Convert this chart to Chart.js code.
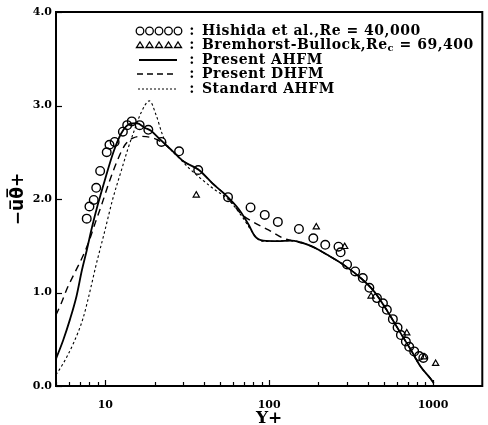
<!DOCTYPE html>
<html>
<head>
<meta charset="utf-8">
<script src="https://cdn.jsdelivr.net/npm/chart.js@4.4.0/dist/chart.umd.min.js"></script>
<style>
  body { margin: 0; background: #fff; }
  canvas { display: block; }
</style>
</head>
<body>
<canvas id="ctx" width="488" height="425"></canvas>
<script>
// Hishida et al., Re = 40,000 (circles)
const hishidaX = [7.7, 8.0, 8.5, 8.8, 9.3, 10.2, 10.6, 11.4, 12.8, 13.6, 14.5, 16.2, 18.3, 22.0, 28.2, 36.9, 56.1, 77, 94, 113, 152, 186, 220, 265, 273, 299, 335, 373, 409, 455, 495, 523, 569, 608, 637, 683, 716, 768, 823, 873];
const hishidaY = [1.79, 1.92, 1.99, 2.12, 2.30, 2.50, 2.58, 2.61, 2.72, 2.79, 2.83, 2.79, 2.74, 2.61, 2.51, 2.31, 2.02, 1.91, 1.83, 1.755, 1.68, 1.58, 1.51, 1.49, 1.43, 1.30, 1.225, 1.155, 1.05, 0.94, 0.885, 0.815, 0.715, 0.625, 0.545, 0.475, 0.42, 0.37, 0.32, 0.30];

// Bremhorst-Bullock, Re_c = 69,400 (triangles)
const bremX = [35.9, 194, 289, 419, 692, 881, 1038];
const bremY = [2.04, 1.70, 1.49, 0.96, 0.565, 0.31, 0.24];

// Present AHFM (solid)
const ahfmX = [5, 5.53, 6.08, 6.67, 7.2, 7.7, 8.3, 9.0, 10.0, 11.2, 12.5, 14.0, 15.6, 17.5, 19.0, 21.5, 25.1, 30.2, 37.3, 44.9, 55.2, 65.3, 75, 82, 92, 112, 137, 173, 199, 228, 288, 365, 438, 527, 637, 731, 838, 965, 1010];
const ahfmY = [0.29, 0.49, 0.71, 0.96, 1.24, 1.45, 1.70, 1.94, 2.22, 2.50, 2.70, 2.80, 2.81, 2.76, 2.73, 2.64, 2.53, 2.40, 2.31, 2.17, 2.03, 1.89, 1.725, 1.60, 1.555, 1.55, 1.555, 1.51, 1.46, 1.40, 1.29, 1.15, 1.01, 0.80, 0.56, 0.39, 0.21, 0.08, 0.03];

// Present DHFM (dashed)
const dhfmX = [5, 5.4, 5.8, 6.5, 7.3, 8.0, 8.7, 9.5, 10.6, 11.9, 13.2, 14.7, 16.3, 18.8, 21.5, 25.1, 30.2, 37.3, 44.9, 55.2, 66.6, 78.6, 99, 122, 137, 173, 199, 228, 288, 365, 438, 527, 637, 731, 838, 965, 1010];
const dhfmY = [0.76, 0.89, 1.03, 1.21, 1.39, 1.56, 1.75, 1.94, 2.19, 2.42, 2.58, 2.65, 2.67, 2.66, 2.62, 2.53, 2.40, 2.31, 2.17, 2.03, 1.85, 1.76, 1.67, 1.58, 1.555, 1.51, 1.46, 1.40, 1.29, 1.15, 1.01, 0.80, 0.56, 0.39, 0.21, 0.08, 0.03];

// Standard AHFM (dotted)
const stdX = [5, 5.53, 6.4, 7.3, 7.9, 8.8, 9.9, 11.1, 12.5, 13.7, 15.0, 16.5, 18.6, 20.4, 22.3, 23.6, 28.2, 32.4, 44.9, 56.6, 68.5, 78.6, 86, 94.5, 112, 137, 173, 199, 228, 288, 365, 438, 527, 637, 731, 838, 965, 1010];
const stdY = [0.12, 0.24, 0.46, 0.72, 0.95, 1.30, 1.65, 2.00, 2.30, 2.53, 2.73, 2.92, 3.05, 2.90, 2.69, 2.59, 2.44, 2.33, 2.12, 1.99, 1.81, 1.65, 1.565, 1.545, 1.55, 1.555, 1.51, 1.46, 1.40, 1.29, 1.15, 1.01, 0.80, 0.56, 0.39, 0.21, 0.08, 0.03];

const xTicks = [5, 6, 7, 8, 9, 10, 20, 30, 40, 50, 60, 70, 80, 90, 100, 200, 300, 400, 500, 600, 700, 800, 900, 1000];
const xLabels = [10, 100, 1000];
const yTicks = [0, 1, 2, 3, 4];

const legendLabels = ['Hishida et al.,Re = 40,000', 'Bremhorst-Bullock,Re', 'Present AHFM', 'Present DHFM', 'Standard AHFM'];

function pts(xs, ys) {
  return xs.map((x, i) => ({ x: x, y: ys[i] }));
}

const serif = "'DejaVu Serif', serif";

const framePlugin = {
  id: 'frame',
  afterDraw(chart) {
    const ctx = chart.ctx;
    const a = chart.chartArea;
    const sx = chart.scales.x, sy = chart.scales.y;
    ctx.save();
    ctx.strokeStyle = '#000';
    ctx.lineWidth = 2;
    ctx.setLineDash([]);
    ctx.strokeRect(a.left, a.top, a.right - a.left, a.bottom - a.top);
    ctx.lineWidth = 1.2;
    xTicks.forEach(v => {
      const px = Math.round(sx.getPixelForValue(v)) + 0.5;
      const len = xLabels.includes(v) ? 6 : 4;
      ctx.beginPath();
      ctx.moveTo(px, a.bottom);
      ctx.lineTo(px, a.bottom - len);
      ctx.stroke();
    });
    yTicks.forEach(v => {
      const py = Math.round(sy.getPixelForValue(v)) + 0.5;
      ctx.beginPath();
      ctx.moveTo(a.left, py);
      ctx.lineTo(a.left + 6, py);
      ctx.stroke();
    });

    // legend
    const rows = [31, 45, 60, 74, 89];
    const symX = [140, 149.5, 159, 168.5, 178];
    ctx.lineWidth = 1.3;
    symX.forEach(x => {
      ctx.beginPath();
      ctx.arc(x, rows[0], 3.8, 0, Math.PI * 2);
      ctx.stroke();
      ctx.beginPath();
      ctx.moveTo(x - 3.5, rows[1] + 2.5);
      ctx.lineTo(x + 3.5, rows[1] + 2.5);
      ctx.lineTo(x, rows[1] - 3);
      ctx.closePath();
      ctx.stroke();
    });
    ctx.lineWidth = 2;
    ctx.beginPath(); ctx.moveTo(139, rows[2]); ctx.lineTo(177, rows[2]); ctx.stroke();
    ctx.lineWidth = 1.5;
    ctx.setLineDash([6, 4]);
    ctx.beginPath(); ctx.moveTo(137, rows[3]); ctx.lineTo(177, rows[3]); ctx.stroke();
    ctx.lineWidth = 1;
    ctx.setLineDash([2, 2]);
    ctx.beginPath(); ctx.moveTo(138, rows[4]); ctx.lineTo(177, rows[4]); ctx.stroke();
    ctx.setLineDash([]);

    ctx.fillStyle = '#000';
    ctx.textBaseline = 'middle';
    ctx.font = 'bold 14px ' + serif;
    ctx.letterSpacing = '0.5px';
    rows.forEach((y, i) => {
      ctx.textAlign = 'center';
      ctx.fillText(':', 192, y);
      ctx.textAlign = 'left';
      ctx.fillText(legendLabels[i], 202, y);
    });
    // subscript c on Re_c
    const w = ctx.measureText(legendLabels[1]).width;
    ctx.font = 'bold 10px ' + serif;
    ctx.fillText('c', 202 + w, rows[1] + 3);
    const wc = ctx.measureText('c').width;
    ctx.font = 'bold 14px ' + serif;
    ctx.fillText(' = 69,400', 202 + w + wc, rows[1]);
    ctx.restore();
  }
};

new Chart(document.getElementById('ctx').getContext('2d'), {
  type: 'scatter',
  data: {
    datasets: [
      {
        label: 'Present AHFM',
        data: pts(ahfmX, ahfmY),
        showLine: true,
        borderColor: '#000',
        borderWidth: 1.8,
        pointRadius: 0,
        cubicInterpolationMode: 'monotone'
      },
      {
        label: 'Present DHFM',
        data: pts(dhfmX, dhfmY),
        showLine: true,
        borderColor: '#000',
        borderWidth: 1.4,
        borderDash: [7, 5],
        pointRadius: 0,
        cubicInterpolationMode: 'monotone'
      },
      {
        label: 'Standard AHFM',
        data: pts(stdX, stdY),
        showLine: true,
        borderColor: '#000',
        borderWidth: 1.1,
        borderDash: [2.5, 2.5],
        pointRadius: 0,
        cubicInterpolationMode: 'monotone'
      },
      {
        label: 'Hishida et al., Re = 40,000',
        data: pts(hishidaX, hishidaY),
        borderColor: '#000',
        backgroundColor: 'rgba(0,0,0,0)',
        borderWidth: 1.4,
        pointRadius: 4.3,
        pointStyle: 'circle'
      },
      {
        label: 'Bremhorst-Bullock, Rec = 69,400',
        data: pts(bremX, bremY),
        borderColor: '#000',
        backgroundColor: 'rgba(0,0,0,0)',
        borderWidth: 1.2,
        pointRadius: 3.6,
        pointStyle: 'triangle'
      }
    ]
  },
  options: {
    responsive: false,
    animation: false,
    devicePixelRatio: 1,
    layout: { padding: { top: 12, right: 2, left: 0, bottom: 0 } },
    plugins: {
      legend: { display: false },
      tooltip: { enabled: false }
    },
    scales: {
      x: {
        type: 'logarithmic',
        min: 5,
        max: 2000,
        grid: { display: false, drawTicks: false },
        border: { display: false },
        afterBuildTicks: scale => { scale.ticks = xTicks.map(v => ({ value: v })); },
        afterFit: scale => { scale.height = 39; },
        ticks: {
          autoSkip: false,
          maxRotation: 0,
          padding: 13,
          color: '#000',
          font: { family: serif, weight: 'bold', size: 11 },
          callback: v => xLabels.includes(v) ? String(v) : ''
        },
        title: {
          display: true,
          text: 'Y+',
          color: '#000',
          font: { family: serif, weight: 'bold', size: 17 },
          padding: { top: 0, bottom: -4 }
        }
      },
      y: {
        min: 0,
        max: 4,
        grid: { display: false, drawTicks: false },
        border: { display: false },
        afterFit: scale => { scale.width = 56; },
        ticks: {
          stepSize: 1,
          padding: 4,
          color: '#000',
          font: { family: serif, weight: 'bold', size: 11 },
          callback: v => v.toFixed(1)
        },
        title: {
          display: true,
          text: '\u2212u\u0305\u03b8\u0305+',
          color: '#000',
          font: { family: "'DejaVu Sans', sans-serif", weight: 'bold', size: 17 },
          padding: { top: 8, bottom: 0 }
        }
      }
    }
  },
  plugins: [framePlugin]
});
</script>
</body>
</html>
